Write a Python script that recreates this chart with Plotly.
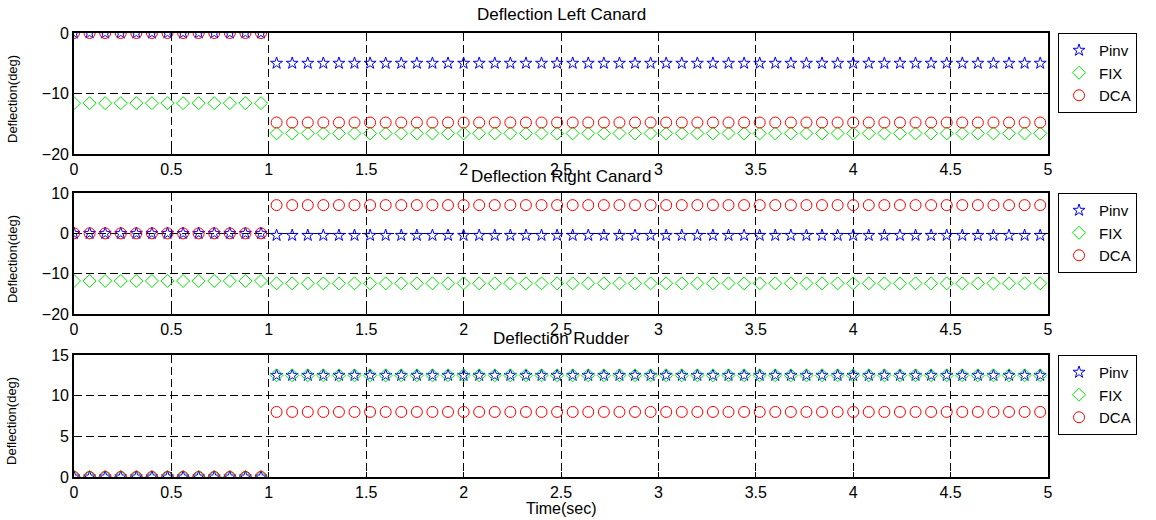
import plotly.graph_objects as go
from plotly.subplots import make_subplots

# Sample times (s)
time_s = [round(0.08 * i, 2) for i in range(63)]
n_pre, n_post = 13, 50  # samples before / after the step at t = 1 s

# Left canard deflection (deg)
left_pinv = [0.0] * n_pre + [-5.0] * n_post
left_fix = [-11.6] * n_pre + [-16.6] * n_post
left_dca = [0.0] * n_pre + [-14.8] * n_post

# Right canard deflection (deg)
right_pinv = [0.0] * n_pre + [-0.5] * n_post
right_fix = [-11.8] * n_pre + [-12.4] * n_post
right_dca = [0.0] * n_pre + [7.0] * n_post

# Rudder deflection (deg)
rud_pinv = [0.0] * n_pre + [12.5] * n_post
rud_fix = [0.0] * n_pre + [12.5] * n_post
rud_dca = [0.0] * n_pre + [8.0] * n_post

panel_titles = ["Deflection Left Canard", "Deflection Right Canard", "Deflection Rudder"]
series_names = ["Pinv", "FIX", "DCA"]
y_ranges = [[-20, 0], [-20, 10], [0, 15]]
y_ticks = [[-20, -10, 0], [-20, -10, 0, 10], [0, 5, 10, 15]]
x_ticks = [0, 0.5, 1, 1.5, 2, 2.5, 3, 3.5, 4, 4.5, 5]
y_label = "Deflection(deg)"

panels = [
    (left_pinv, left_fix, left_dca),
    (right_pinv, right_fix, right_dca),
    (rud_pinv, rud_fix, rud_dca),
]

styles = {
    "Pinv": dict(symbol="star-open", color="#0000ff", size=9),
    "FIX": dict(symbol="diamond-open", color="#00e600", size=10),
    "DCA": dict(symbol="circle-open", color="#ff0000", size=11),
}

FONT = "Liberation Sans, Arial, sans-serif"
FS = 16

fig = make_subplots(rows=3, cols=1, shared_xaxes=False, vertical_spacing=0.0)

domains = [[0.7275, 1.0], [0.3671, 0.6396], [0.0, 0.2748]]
legend_keys = ["legend", "legend2", "legend3"]

for r, series in enumerate(panels, start=1):
    for name, vals in zip(series_names, series):
        st = styles[name]
        fig.add_trace(
            go.Scatter(
                x=time_s, y=vals, mode="markers", name=name,
                marker=dict(symbol=st["symbol"], color=st["color"], size=st["size"],
                            line=dict(width=1, color=st["color"])),
                legend=legend_keys[r - 1],
            ),
            row=r, col=1,
        )

axis_common = dict(
    showline=True, linecolor="black", linewidth=1.6, mirror="ticks",
    ticks="inside", ticklen=5, tickcolor="black",
    showgrid=True, gridcolor="black", gridwidth=1, griddash="8px,4px",
    zeroline=False, tickfont=dict(family=FONT, size=FS, color="black"),
)

for r in range(1, 4):
    fig.update_xaxes(range=[0, 5], tickvals=x_ticks, ticktext=[f"{v:g}" for v in x_ticks],
                     showticklabels=True, row=r, col=1, **axis_common)
    fig.update_yaxes(range=y_ranges[r - 1], tickvals=y_ticks[r - 1], domain=domains[r - 1],
                     row=r, col=1, **axis_common)

layout_legends = {}
for i, key in enumerate(legend_keys):
    layout_legends[key] = dict(
        x=1.0103, xanchor="left", y=domains[i][1], yanchor="top",
        bgcolor="white", bordercolor="black", borderwidth=1,
        font=dict(family=FONT, size=15, color="black"),
        tracegroupgap=0, itemsizing="trace", entrywidth=62,
    )

fig.update_layout(
    width=1156, height=520,
    margin=dict(l=74, r=108, t=33, b=43),
    paper_bgcolor="white", plot_bgcolor="white",
    font=dict(family=FONT, size=FS, color="black"),
    showlegend=True,
    **layout_legends,
)

# Panel titles
title_y_px = [15, 176, 338]
for title, ypx in zip(panel_titles, title_y_px):
    fig.add_annotation(
        text=title, x=0.5, xref="paper", y=(477 - ypx) / 444, yref="paper",
        xanchor="center", yanchor="middle", showarrow=False,
        font=dict(family=FONT, size=17, color="black"),
    )

# Vertical y-axis label beside each panel
for dom in domains:
    top_px = 477 - dom[1] * 444
    ypx = top_px + 66
    fig.add_annotation(
        text=y_label, textangle=-90, x=-62 / 974, xref="paper", y=(477 - ypx) / 444,
        yref="paper", xanchor="center", yanchor="middle", showarrow=False,
        font=dict(family=FONT, size=13, color="black"),
    )

fig.add_annotation(
    text="Time(sec)", x=0.5, xref="paper", y=(477 - 508) / 444, yref="paper",
    xanchor="center", yanchor="middle", showarrow=False,
    font=dict(family=FONT, size=FS, color="black"),
)

fig.write_html("out.html")
